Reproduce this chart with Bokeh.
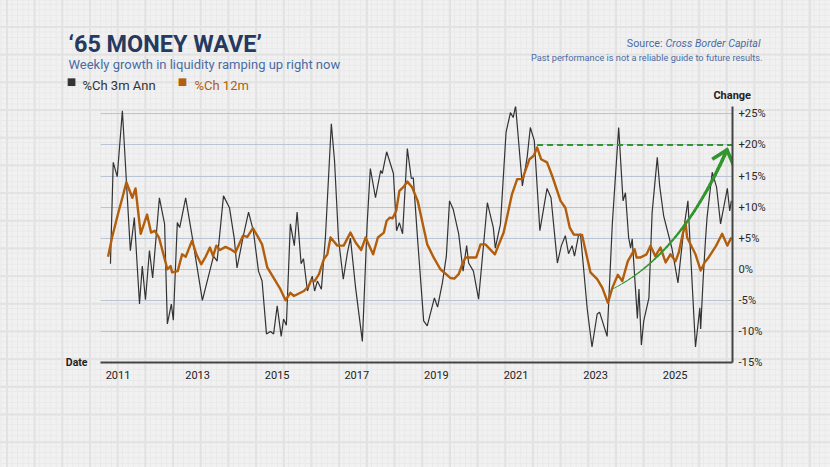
import numpy as np
from bokeh.plotting import figure
from bokeh.layouts import column
from bokeh.models import Label, FixedTicker, CustomJSTickFormatter, Range1d, GridBox
from bokeh.embed import file_html
from bokeh.resources import INLINE

# %Ch 3m Ann — decimal year and percent change
ann3m_year = [2010.81, 2010.88, 2010.98, 2011.11, 2011.31, 2011.41, 2011.54, 2011.61, 2011.69, 2011.79,
              2011.87, 2012.04, 2012.17, 2012.24, 2012.34, 2012.39, 2012.49, 2012.55, 2012.70, 2012.87,
              2013.12, 2013.40, 2013.49, 2013.65, 2013.80, 2013.92, 2013.99, 2014.15, 2014.28, 2014.40,
              2014.53, 2014.62, 2014.73, 2014.83, 2014.91, 2015.00, 2015.10, 2015.16, 2015.23, 2015.33,
              2015.43, 2015.50, 2015.60, 2015.66, 2015.76, 2015.88, 2015.94, 2016.01, 2016.11, 2016.21,
              2016.36, 2016.44, 2016.54, 2016.66, 2016.76, 2016.84, 2016.97, 2017.14, 2017.26, 2017.34,
              2017.47, 2017.60, 2017.64, 2017.75, 2017.92, 2018.00, 2018.07, 2018.15, 2018.27, 2018.37,
              2018.42, 2018.53, 2018.68, 2018.77, 2018.95, 2019.03, 2019.15, 2019.25, 2019.33, 2019.42,
              2019.56, 2019.67, 2019.76, 2019.81, 2019.93, 2020.06, 2020.21, 2020.28, 2020.43, 2020.48,
              2020.61, 2020.75, 2020.86, 2020.93, 2020.99, 2021.16, 2021.28, 2021.36, 2021.46, 2021.60,
              2021.78, 2021.88, 2022.04, 2022.14, 2022.24, 2022.32, 2022.41, 2022.47, 2022.57, 2022.62,
              2022.79, 2022.91, 2023.04, 2023.10, 2023.29, 2023.42, 2023.58, 2023.69, 2023.75, 2023.83,
              2023.88, 2023.92, 2024.05, 2024.09, 2024.15, 2024.21, 2024.34, 2024.42, 2024.55, 2024.61,
              2024.71, 2024.92, 2025.07, 2025.22, 2025.32, 2025.38, 2025.51, 2025.62, 2025.64, 2025.70,
              2025.76, 2025.80, 2025.93, 2026.04, 2026.14, 2026.31, 2026.37, 2026.41]
ann3m_pct = [0.9, 17.2, 14.9, 25.5, 3.0, 8.3, -5.6, 0.5, -4.9, 3.0,
             -1.4, 11.5, 7.3, -8.8, -5.6, -8.2, 7.5, 6.7, 11.5, 5.0,
             -5.0, 2.1, 1.3, 11.8, 9.9, 5.0, 0.2, 5.4, 9.2, 6.2,
             -0.3, -1.9, -10.4, -10.0, -10.4, -5.9, -10.8, -8.0, -9.0, 7.3,
             3.8, 9.2, 0.9, 1.7, -3.5, -1.1, -3.5, -1.9, -3.2, 5.0,
             23.4, 17.5, 4.9, -1.6, 2.5, 5.0, -3.0, -11.6, 7.3, 16.2,
             11.5, 15.9, 15.4, 18.9, 15.4, 6.2, 7.5, 5.7, 19.4, 14.6,
             14.7, 4.6, -8.3, -9.1, -4.6, -6.1, -2.2, 2.1, 11.0, 9.7,
             5.7, -0.3, 3.8, 1.0, -0.3, -4.8, 5.7, 10.7, 6.7, 3.4,
             7.3, 22.0, 25.2, 24.4, 26.3, 13.4, 18.0, 22.8, 20.7, 6.2,
             13.0, 11.5, 1.0, 3.8, 5.4, 2.5, 3.8, 2.1, 5.4, 5.7,
             -6.4, -12.5, -7.2, -6.9, -10.8, 7.3, 22.8, 11.0, 12.3, 5.1,
             3.4, 4.9, -7.9, -3.2, -12.2, -8.3, -4.6, 9.1, 18.0, 13.4,
             8.6, 3.3, -2.2, 6.7, 11.0, 3.4, -12.5, -6.2, -9.6, -1.9,
             4.6, 8.3, 15.6, 13.2, 7.3, 13.0, 9.4, 11.0]

# %Ch 12m — decimal year and percent change
chg12m_year = [2010.75, 2010.85, 2011.02, 2011.11, 2011.21, 2011.36, 2011.44, 2011.57, 2011.73, 2011.83,
               2011.92, 2012.03, 2012.24, 2012.32, 2012.36, 2012.50, 2012.61, 2012.70, 2012.86, 2012.97,
               2013.09, 2013.20, 2013.31, 2013.39, 2013.47, 2013.56, 2013.70, 2013.83, 2013.95, 2014.14,
               2014.25, 2014.39, 2014.50, 2014.62, 2014.75, 2014.91, 2015.08, 2015.21, 2015.33, 2015.42,
               2015.67, 2015.79, 2015.85, 2015.94, 2016.05, 2016.17, 2016.26, 2016.34, 2016.51, 2016.67,
               2016.84, 2016.97, 2017.11, 2017.22, 2017.41, 2017.53, 2017.68, 2017.75, 2017.83, 2017.90,
               2017.99, 2018.07, 2018.17, 2018.27, 2018.39, 2018.53, 2018.64, 2018.77, 2018.93, 2019.10,
               2019.35, 2019.45, 2019.56, 2019.65, 2019.73, 2020.00, 2020.11, 2020.23, 2020.47, 2020.57,
               2020.69, 2020.90, 2021.03, 2021.16, 2021.34, 2021.45, 2021.53, 2021.63, 2021.78, 2021.91,
               2022.12, 2022.24, 2022.35, 2022.45, 2022.66, 2022.87, 2023.04, 2023.17, 2023.31, 2023.42,
               2023.56, 2023.67, 2023.81, 2023.98, 2024.03, 2024.13, 2024.28, 2024.38, 2024.50, 2024.63,
               2024.76, 2024.88, 2025.01, 2025.09, 2025.18, 2025.26, 2025.30, 2025.51, 2025.64, 2025.74,
               2025.84, 2026.03, 2026.18, 2026.31, 2026.41]
chg12m_pct = [2.0, 5.1, 9.4, 11.5, 14.0, 11.5, 13.0, 5.7, 8.8, 5.9,
              6.2, 5.1, 0.0, 0.5, -0.5, -0.3, 2.4, 2.0, 4.6, 2.4,
              0.8, 2.0, 3.5, 2.1, 3.8, 3.1, 3.6, 3.2, 2.7, 5.4,
              5.2, 6.6, 5.4, 4.0, 0.3, -1.4, -3.2, -5.0, -3.8, -4.3,
              -3.5, -2.7, -1.8, -1.9, -0.8, 1.6, 2.4, 5.1, 3.8, 3.8,
              5.9, 4.3, 3.1, 5.1, 2.4, 5.1, 5.9, 7.8, 8.3, 8.2,
              9.4, 12.6, 13.2, 14.1, 13.2, 11.0, 7.8, 4.0, 1.9, 0.0,
              -1.4, -1.5, -0.8, 0.8, 1.9, 1.9, 4.0, 4.0, 2.4, 4.0,
              5.9, 12.1, 14.5, 14.5, 17.7, 18.3, 19.6, 17.7, 17.2, 15.0,
              11.0, 9.9, 6.7, 5.6, 5.5, -0.5, -1.6, -3.0, -5.4, -3.0,
              -0.9, -1.9, 1.3, 3.2, 1.9, 1.9, 2.4, 3.8, 2.1, 3.5,
              1.1, 2.4, 1.3, 2.7, 5.4, 7.5, 5.1, 2.4, -0.2, 1.1,
              1.9, 3.8, 5.7, 3.8, 5.1]

year_ticks = [2011, 2013, 2015, 2017, 2019, 2021, 2023, 2025]
pct_ticks = [-15, -10, -5, 0, 5, 10, 15, 20, 25]
grid_levels = [-10, -5, 0, 5, 10, 15, 20, 25]
prior_peak_level = 20

# Upswing arrow: start, control and tip of a quadratic curve, plus the two head arms
arrow_start = (2023.42, -3.2)
arrow_ctrl = (2025.15, 2.4)
arrow_tip = (2026.30, 19.2)
arrow_arm_a = (2025.93, 17.7)
arrow_arm_b = (2026.47, 16.7)

W, H = 830, 467
NAVY = "#26395f"
BLUE = "#4a6ca3"
DARK = "#333333"
ORANGE = "#b25e0d"
GREEN = "#33952f"
FONT = "Roboto"

# ---------------- chart ----------------
p = figure(width=W, height=H, output_backend="svg", toolbar_location=None,
           x_range=Range1d(2010.56, 2026.44), y_range=Range1d(-15, 26.18),
           y_axis_location="right",
           min_border_left=100, min_border_right=98, min_border_top=106, min_border_bottom=105)
p.border_fill_color = None
p.background_fill_color = None
p.outline_line_color = None
# squared "graph paper" backdrop behind the whole canvas
p.styles = {
    "background-color": "#f1f1f1",
    "background-image": ("linear-gradient(to right, #e2e2e2 1.5px, transparent 1.5px),"
                         "linear-gradient(to bottom, #e2e2e2 1.5px, transparent 1.5px),"
                         "linear-gradient(to right, #e9e9e9 1px, transparent 1px),"
                         "linear-gradient(to bottom, #e9e9e9 1px, transparent 1px)"),
    "background-size": "27.7px 27.7px, 27.7px 27.7px, 5.54px 5.54px, 5.54px 5.54px",
    "background-position": "6px 26px, 6px 26px, 6px 26px, 6px 26px",
}

xa = p.xaxis[0]
xa.ticker = FixedTicker(ticks=year_ticks)
xa.axis_line_color = "#444444"
xa.axis_line_width = 2
xa.major_tick_line_color = None
xa.minor_tick_line_color = None
xa.major_tick_out = 0
xa.major_label_standoff = 8
xa.major_label_text_font = FONT
xa.major_label_text_font_size = "11px"
xa.major_label_text_font_style = "normal"
xa.major_label_text_color = "#222222"

ya = p.yaxis[0]
ya.ticker = FixedTicker(ticks=pct_ticks)
ya.formatter = CustomJSTickFormatter(code="return (tick > 0 ? '+' : '') + tick + '%';")
ya.axis_line_color = "#444444"
ya.axis_line_width = 2
ya.major_tick_line_color = None
ya.minor_tick_line_color = None
ya.major_tick_out = 0
ya.major_label_standoff = 6
ya.major_label_text_font = FONT
ya.major_label_text_font_size = "11.2px"
ya.major_label_text_color = "#2a2a2a"

p.xgrid.visible = False
p.ygrid.ticker = FixedTicker(ticks=grid_levels)
p.ygrid.grid_line_color = "#b9c4d4"
p.ygrid.grid_line_width = 1

p.line(ann3m_year, ann3m_pct, line_color=DARK, line_width=1.2)
p.line(chg12m_year, chg12m_pct, line_color=ORANGE, line_width=2.4, line_join="round")

# dashed line from the 12m peak at the prior-peak level
peak_i = int(np.argmax(chg12m_pct))
p.segment(x0=[chg12m_year[peak_i]], y0=[prior_peak_level], x1=[p.x_range.end], y1=[prior_peak_level],
          line_color=GREEN, line_width=2, line_dash="6 4")

# tapered curved arrow
t = np.linspace(0, 1, 41)
bx = (1 - t) ** 2 * arrow_start[0] + 2 * t * (1 - t) * arrow_ctrl[0] + t ** 2 * arrow_tip[0]
by = (1 - t) ** 2 * arrow_start[1] + 2 * t * (1 - t) * arrow_ctrl[1] + t ** 2 * arrow_tip[1]
widths = np.linspace(0.8, 3.6, len(t) - 1)
p.segment(x0=bx[:-1], y0=by[:-1], x1=bx[1:], y1=by[1:], line_color=GREEN,
          line_width=widths, line_cap="round")
p.line([arrow_arm_a[0], arrow_tip[0], arrow_arm_b[0]], [arrow_arm_a[1], arrow_tip[1], arrow_arm_b[1]],
       line_color=GREEN, line_width=3.6, line_join="miter")

# ---------------- text layer (canvas pixels, y measured from the top) ----------------
txt = figure(width=W, height=H, output_backend="svg", toolbar_location=None,
             x_range=Range1d(0, W), y_range=Range1d(H, 0),
             x_axis_type=None, y_axis_type=None,
             min_border_left=0, min_border_right=0, min_border_top=0, min_border_bottom=0)
txt.border_fill_color = None
txt.background_fill_color = None
txt.outline_line_color = None
txt.grid.visible = False

has_frame_align = "frame_align" in txt.properties()
if has_frame_align:
    txt.frame_align = False
    p.frame_align = False


def note(x, y, text, size, color, style="normal", align="left", baseline="alphabetic", font=FONT):
    txt.add_layout(Label(x=x, y=y, text=text, text_font=font, text_font_size=size,
                         text_font_style=style, text_color=color,
                         text_align=align, text_baseline=baseline))


note(68, 43.5, "\u201865 MONEY WAVE\u2019", "23.4px", NAVY, style="bold")
note(68, 63.5, "Weekly growth in liquidity ramping up right now", "13px", BLUE)
note(71, 80.5, "\u25a0", "10px", DARK, align="center", baseline="middle", font="DejaVu Sans")
note(82, 85, "%Ch 3m Ann", "13px", DARK)
note(182, 80.5, "\u25a0", "10px", ORANGE, align="center", baseline="middle", font="DejaVu Sans")
note(194, 85, "%Ch 12m", "13px", ORANGE)
note(662, 42.7, "Source:", "10.7px", BLUE, align="right")
note(665, 42.7, "Cross Border Capital", "10.7px", BLUE, style="italic")
note(762, 57, "Past performance is not a reliable guide to future results.", "9.2px", BLUE, align="right")
note(731.7, 95, "Change", "11px", "#222222", style="bold", align="center")
note(87, 362, "Date", "10.5px", "#222222", style="bold", align="right", baseline="middle")

overlay = txt if has_frame_align else column(txt)
page = GridBox(children=[(p, 0, 0), (overlay, 0, 0)])
open("out.html", "w").write(file_html(page, INLINE))
